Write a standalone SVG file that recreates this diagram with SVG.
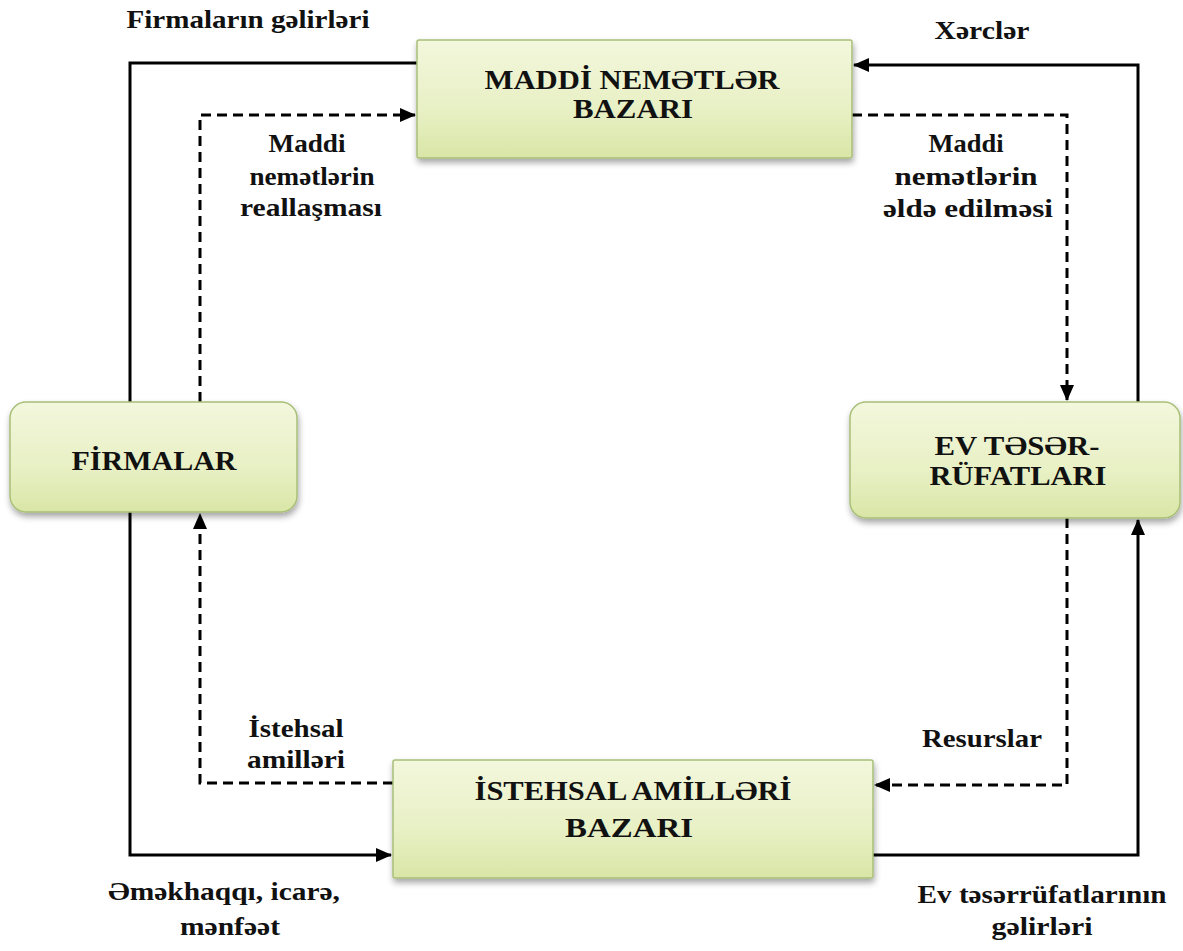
<svg xmlns="http://www.w3.org/2000/svg" width="1183" height="951" viewBox="0 0 1183 951">
<style>
.box{fill:url(#g);stroke:#a9bf78;stroke-width:1.5;filter:url(#sh)}
.t{font-family:"Liberation Serif","DejaVu Serif","Times New Roman",serif;font-weight:bold;fill:#111;text-anchor:middle}
.bt{font-size:28px}
.lb{font-size:26px}
.c{fill:none;stroke:#000;stroke-width:3}
.d{stroke-dasharray:10 6}
</style>
<defs>
<linearGradient id="g" x1="0" y1="0" x2="0" y2="1">
<stop offset="0" stop-color="#f3f7dd"/>
<stop offset="0.6" stop-color="#e8f0c4"/>
<stop offset="1" stop-color="#d9e6a6"/>
</linearGradient>
<filter id="sh" x="-10%" y="-10%" width="120%" height="130%">
<feDropShadow dx="1" dy="4" stdDeviation="3" flood-color="#000" flood-opacity="0.35"/>
</filter>
<marker id="a" markerUnits="userSpaceOnUse" markerWidth="16" markerHeight="14" refX="15" refY="7" orient="auto">
<path d="M0,0 L16,7 L0,14 z" fill="#000"/>
</marker>
</defs>
<g id="connectors">
<path class="c" d="M417,63 H130 V402"/>
<path class="c d" d="M200,402 V115 H415" marker-end="url(#a)"/>
<path class="c" d="M1138,402 V65 H854" marker-end="url(#a)"/>
<path class="c d" d="M852,115 H1067 V400" marker-end="url(#a)"/>
<path class="c d" d="M1067,518 V785 H875" marker-end="url(#a)"/>
<path class="c" d="M873,855 H1138 V520" marker-end="url(#a)"/>
<path class="c" d="M130,512 V855 H391" marker-end="url(#a)"/>
<path class="c d" d="M393,783 H200 V514" marker-end="url(#a)"/>
</g>
<g id="node-maddi">
<rect class="box" x="417" y="40" width="435" height="118" rx="2"/>
<text class="t bt" x="632" y="89" textLength="295" lengthAdjust="spacingAndGlyphs">MADDİ NEMƏTLƏR</text>
<text class="t bt" x="633" y="118" textLength="120" lengthAdjust="spacingAndGlyphs">BAZARI</text>
</g>
<g id="node-firmalar">
<rect class="box" x="10" y="402" width="287" height="110" rx="16"/>
<text class="t bt" x="154" y="470" textLength="165" lengthAdjust="spacingAndGlyphs">FİRMALAR</text>
</g>
<g id="node-ev">
<rect class="box" x="850" y="402" width="330" height="116" rx="16"/>
<text class="t bt" x="1017" y="455" textLength="165" lengthAdjust="spacingAndGlyphs">EV TƏSƏR-</text>
<text class="t bt" x="1018" y="485" textLength="177" lengthAdjust="spacingAndGlyphs">RÜFATLARI</text>
</g>
<g id="node-istehsal">
<rect class="box" x="393" y="760" width="480" height="118" rx="2"/>
<text class="t bt" x="633" y="800" textLength="317" lengthAdjust="spacingAndGlyphs">İSTEHSAL AMİLLƏRİ</text>
<text class="t bt" x="629" y="837" textLength="128" lengthAdjust="spacingAndGlyphs">BAZARI</text>
</g>
<g id="labels">
<text class="t lb" x="248" y="28" textLength="243" lengthAdjust="spacingAndGlyphs">Firmaların gəlirləri</text>
<text class="t lb" x="982" y="39" textLength="95" lengthAdjust="spacingAndGlyphs">Xərclər</text>
<text class="t lb" x="307" y="152" textLength="77" lengthAdjust="spacingAndGlyphs">Maddi</text>
<text class="t lb" x="312" y="185" textLength="125" lengthAdjust="spacingAndGlyphs">nemətlərin</text>
<text class="t lb" x="311" y="216" textLength="142" lengthAdjust="spacingAndGlyphs">reallaşması</text>
<text class="t lb" x="966" y="152" textLength="75" lengthAdjust="spacingAndGlyphs">Maddi</text>
<text class="t lb" x="966" y="185" textLength="143" lengthAdjust="spacingAndGlyphs">nemətlərin</text>
<text class="t lb" x="968" y="217" textLength="170" lengthAdjust="spacingAndGlyphs">əldə edilməsi</text>
<text class="t lb" x="296" y="737" textLength="95" lengthAdjust="spacingAndGlyphs">İstehsal</text>
<text class="t lb" x="296" y="768" textLength="98" lengthAdjust="spacingAndGlyphs">amilləri</text>
<text class="t lb" x="982" y="747" textLength="120" lengthAdjust="spacingAndGlyphs">Resurslar</text>
<text class="t lb" x="224" y="900" textLength="232" lengthAdjust="spacingAndGlyphs">Əməkhaqqı, icarə,</text>
<text class="t lb" x="230" y="935" textLength="100" lengthAdjust="spacingAndGlyphs">mənfəət</text>
<text class="t lb" x="1042" y="903" textLength="249" lengthAdjust="spacingAndGlyphs">Ev təsərrüfatlarının</text>
<text class="t lb" x="1042" y="935" textLength="101" lengthAdjust="spacingAndGlyphs">gəlirləri</text>
</g>
</svg>
